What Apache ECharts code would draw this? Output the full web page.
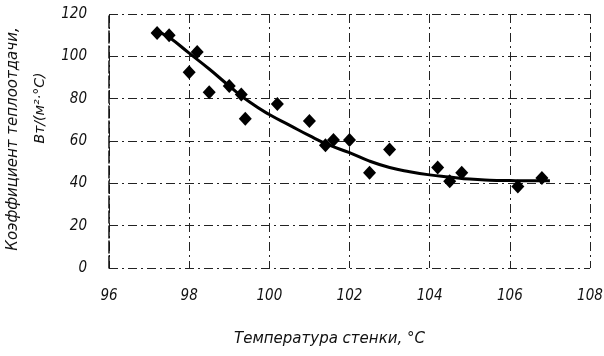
<!DOCTYPE html>
<html>
<head>
<meta charset="utf-8">
<script src="https://cdn.jsdelivr.net/npm/echarts@6/dist/echarts.min.js"></script>
<style>
  html, body { margin: 0; padding: 0; background: #fff; }
  #chart { width: 604px; height: 356px; }
</style>
</head>
<body>
<div id="chart"></div>
<script>
// измеренные точки: температура стенки, °C
var wallTemp = [97.2, 97.5, 98.0, 98.2, 98.5, 99.0, 99.3, 99.4, 100.2, 101.0,
                101.4, 101.6, 102.0, 102.5, 103.0, 104.2, 104.5, 104.8, 106.2, 106.8];
// коэффициент теплоотдачи, Вт/(м2·°C)
var heatCoef = [111, 110, 92.5, 102, 83, 86, 82, 70.5, 77.5, 69.5,
                58, 60.5, 60.5, 45, 56, 47.5, 41, 45, 38.5, 42.5];

// усреднённая кривая
var curveX = [97.3, 97.5, 98, 98.5, 99, 99.5, 100, 100.5, 101, 101.5, 102,
              102.5, 103, 103.5, 104, 104.5, 105, 105.5, 106, 106.5, 107];
var curveY = [111, 109, 101.5, 94, 86, 78.5, 72.5, 67.5, 62.5, 58, 54.5,
              50.5, 47.5, 45.5, 44, 43, 42, 41.5, 41.3, 41.2, 41.2];

var xTicks = [96, 98, 100, 102, 104, 106, 108];
var yTicks = [0, 20, 40, 60, 80, 100, 120];

var yTitle1 = 'Коэффициент теплоотдачи,';
var yTitle2 = 'Вт/(м²·°С)';
var xTitle = 'Температура стенки, °С';

var font = '"DejaVu Sans", sans-serif';
var narrow = '"DejaVu Sans Condensed", "DejaVu Sans", sans-serif';
var gridLine = { show: true, lineStyle: { color: '#222', width: 1, type: [9, 4, 2, 4] } };

var chart = echarts.init(document.getElementById('chart'));
chart.setOption({
  animation: false,
  grid: { left: 109, right: 14, top: 14, bottom: 88, containLabel: false, outerBoundsMode: 'none' },
  graphic: [
    {
      type: 'text', x: 13, y: 139, rotation: Math.PI / 2,
      style: { text: yTitle1, fill: '#111', font: 'italic 15px ' + font, align: 'center', verticalAlign: 'middle' }
    },
    {
      type: 'text', x: 40, y: 108, rotation: Math.PI / 2,
      style: { text: yTitle2, fill: '#111', font: 'italic 14px ' + font, align: 'center', verticalAlign: 'middle' }
    }
  ],
  xAxis: {
    type: 'value',
    min: xTicks[0], max: xTicks[xTicks.length - 1], interval: 2,
    axisLine: { show: false },
    axisTick: { show: false },
    splitLine: gridLine,
    axisLabel: { margin: 21, color: '#111', fontSize: 15, fontStyle: 'italic', fontFamily: narrow },
    name: xTitle,
    nameLocation: 'middle',
    nameGap: 64,
    nameTextStyle: { color: '#111', fontSize: 15, fontStyle: 'italic', fontFamily: font, padding: [0, 40, 0, 0] }
  },
  yAxis: {
    type: 'value',
    min: yTicks[0], max: yTicks[yTicks.length - 1], interval: 20,
    axisLine: { show: true, lineStyle: { color: '#111', width: 1.5, type: [12, 3] } },
    axisTick: { show: false },
    splitLine: gridLine,
    axisLabel: { margin: 22, color: '#111', fontSize: 15, fontStyle: 'italic', fontFamily: narrow }
  },
  series: [
    {
      type: 'line',
      smooth: true,
      showSymbol: false,
      data: curveX.map(function (x, i) { return [x, curveY[i]]; }),
      lineStyle: { color: '#000', width: 3 },
      z: 3
    },
    {
      type: 'scatter',
      symbol: 'diamond',
      symbolSize: [13, 14],
      data: wallTemp.map(function (x, i) { return [x, heatCoef[i]]; }),
      itemStyle: { color: '#000', opacity: 1 },
      z: 4
    }
  ]
});
</script>
</body>
</html>
